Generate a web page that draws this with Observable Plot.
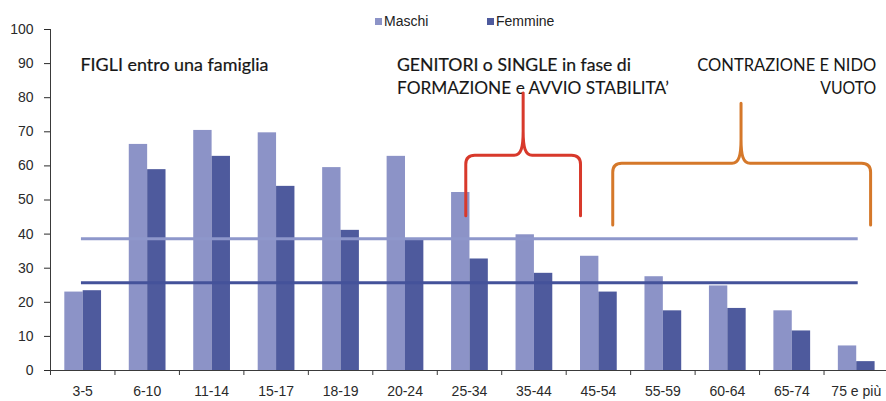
<!DOCTYPE html>
<html><head><meta charset="utf-8">
<script src="https://cdn.jsdelivr.net/npm/d3@7"></script>
<script src="https://cdn.jsdelivr.net/npm/@observablehq/plot@0.6"></script>
<style>
html,body{margin:0;padding:0;background:#fff;}
#wrap{position:relative;width:886px;height:401px;overflow:hidden;background:#fff;}
#legend{position:absolute;left:0;top:0;width:886px;height:40px;font:14px "Liberation Sans",Arial,sans-serif;color:#222;z-index:2;}
#legend .sw{position:absolute;width:7px;height:7px;}
#legend .lb{position:absolute;line-height:16px;}
</style></head>
<body><div id="wrap"><div id="legend"></div></div>
<script>
// ---- data ----
const ages = ["3-5","6-10","11-14","15-17","18-19","20-24","25-34","35-44","45-54","55-59","60-64","65-74","75 e più"];
const maschi  = [23.0, 66.3, 70.4, 69.7, 59.5, 62.8, 52.2, 39.8, 33.5, 27.5, 24.8, 17.5, 7.2];
const femmine = [23.4, 58.9, 62.8, 54.0, 41.1, 38.4, 32.7, 28.5, 23.0, 17.5, 18.2, 11.6, 2.6];
const mediaMaschi = [38.6];
const mediaFemmine = [25.7];
const yTicks = [0,10,20,30,40,50,60,70,80,90,100];
const seriesNames = ["Maschi","Femmine"];
const annotations = ["FIGLI entro una famiglia", "GENITORI o SINGLE in fase di", "FORMAZIONE e AVVIO STABILITA’", "CONTRAZIONE E NIDO", "VUOTO"];

// ---- styles ----
const cM = "#8c93c7", cF = "#4e5a9d";
const lineM = "#8e97cb", lineF = "#44529a";
const font = "Liberation Sans, Arial, sans-serif";
const annFont = "Lato, 'Open Sans', sans-serif";

// legend
const legend = d3.select("#legend");
[[seriesNames[0], cM, 375, 384], [seriesNames[1], cF, 487, 496]].forEach(([name, col, sx, tx]) => {
  legend.append("div").attr("class","sw").style("left", sx+"px").style("top","18px").style("background", col);
  legend.append("div").attr("class","lb").style("left", tx+"px").style("top","13px").text(name);
});

const idx = ages.map((d,i)=>i);
const gs = 0.222, bw = 0.285;

function brace(xl, xr, xp, yb, yh, yt, color) {
  return (index, scales) => {
    const x = scales.x, y = scales.y;
    const L = x(xl), R = x(xr), P = x(xp), B = y(yb), H = y(yh), T = y(yt);
    const r = 9, tw = 9, th = 24;
    const p = d3.path();
    p.moveTo(L, B);
    p.lineTo(L, H + r);
    p.quadraticCurveTo(L, H, L + r, H);
    p.lineTo(P - tw, H);
    p.bezierCurveTo(P - 2, H, P, H - 8, P, H - th);
    p.lineTo(P, T);
    p.moveTo(P, H - th);
    p.bezierCurveTo(P, H - 8, P + 2, H, P + tw, H);
    p.lineTo(R - r, H);
    p.quadraticCurveTo(R, H, R, H + r);
    p.lineTo(R, B);
    return d3.create("svg:path")
      .attr("d", p.toString())
      .attr("fill", "none")
      .attr("stroke", color)
      .attr("stroke-width", 3)
      .attr("stroke-linecap", "round")
      .attr("stroke-linejoin", "round")
      .node();
  };
}

// annotation text: position (data units), anchor, rendered width (px), weight
const annLayout = [
  {x: 0.465, y: 89.4, anchor: "start", w: 188, sw: 0.2},
  {x: 5.375, y: 89.4, anchor: "start", w: 234, sw: 0.2},
  {x: 5.375, y: 82.5, anchor: "start", w: 272, sw: 0.1},
  {x: 12.81, y: 89.4, anchor: "end", w: 179, sw: 0},
  {x: 12.81, y: 82.5, anchor: "end", w: 56, sw: 0}
];
const annMarks = annotations.map((t, k) => Plot.text([t], {
  x: () => annLayout[k].x, y: () => annLayout[k].y, text: d => d,
  textAnchor: annLayout[k].anchor, fontFamily: annFont, fontSize: 16.5, fill: "#161616",
  stroke: "#161616", strokeWidth: annLayout[k].sw
}));

const chart = Plot.plot({
  width: 886,
  height: 401,
  marginTop: 29,
  marginBottom: 31,
  marginLeft: 50,
  marginRight: 0,
  style: {fontFamily: font, fontSize: "14px", color: "#2a2a2a", background: "transparent", overflow: "visible"},
  x: {domain: [0, 13], range: [50, 888], axis: null},
  y: {domain: [0, 100], ticks: yTicks, tickSize: 6, tickPadding: 11, label: null},
  marks: [
    Plot.rect(idx, {x1: i => i + gs, x2: i => i + gs + bw, y1: () => 0, y2: i => maschi[i], fill: cM}),
    Plot.rect(idx, {x1: i => i + gs + bw, x2: i => i + gs + 2*bw, y1: () => 0, y2: i => femmine[i], fill: cF}),
    Plot.ruleY(mediaMaschi, {x1: () => 0.48, x2: () => 12.53, stroke: lineM, strokeWidth: 3}),
    Plot.ruleY(mediaFemmine, {x1: () => 0.48, x2: () => 12.53, stroke: lineF, strokeWidth: 3}),
    Plot.ruleX([0], {stroke: "#3a3a3a", strokeWidth: 1}),
    Plot.ruleY([0], {stroke: "#3a3a3a", strokeWidth: 1}),
    Plot.ruleX(d3.range(ages.length + 1), {y1: () => 0, y2: () => 0, insetBottom: -5, stroke: "#3a3a3a"}),
    Plot.text(ages, {x: (d, i) => i + 0.5, y: () => 0, dy: 21, fill: "#2a2a2a", fontSize: 14}),
    ...annMarks,
    brace(6.45, 8.23, 7.34, 45.2, 63.0, 81.2, "#d8392b"),
    brace(8.73, 12.73, 10.72, 42.5, 60.6, 78.2, "#d5782a")
  ]
});
// fit annotation widths to the reference
d3.select(chart).selectAll("text").each(function() {
  const k = annotations.indexOf(this.textContent);
  if (k >= 0) {
    this.setAttribute("textLength", annLayout[k].w);
    this.setAttribute("lengthAdjust", "spacingAndGlyphs");
  }
});
document.getElementById("wrap").insertBefore(chart, document.getElementById("legend"));
chart.style.position = "absolute";
chart.style.left = "0";
chart.style.top = "0";
</script>
</body></html>
